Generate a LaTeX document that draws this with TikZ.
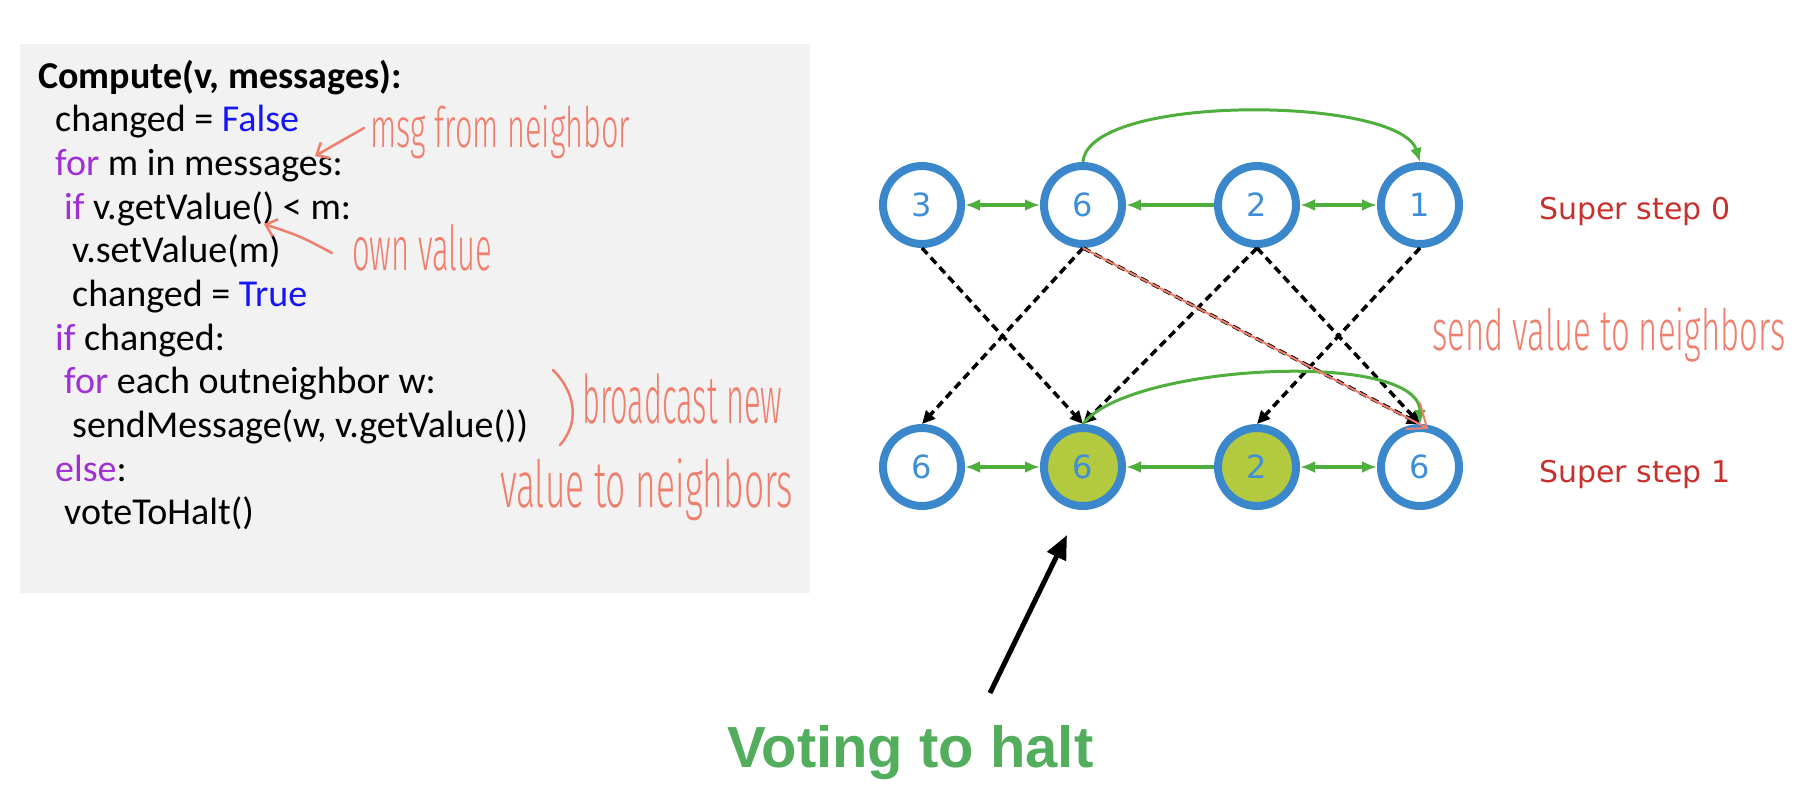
\documentclass[tikz,border=0pt]{standalone}
\usepackage{fontspec}
\setmainfont{Carlito}
\newfontfamily\dejavu{DejaVu Sans}
\newfontfamily\arialf{Liberation Sans}
\newfontfamily\handf{Fira Sans Light}
\usetikzlibrary{arrows.meta}
\definecolor{boxgray}{HTML}{F2F2F2}
\definecolor{kwpurple}{HTML}{A12FD6}
\definecolor{kwblue}{HTML}{1515F5}
\definecolor{ann}{HTML}{F07E6C}
\definecolor{nodeblue}{HTML}{3A87CC}
\definecolor{digitblue}{HTML}{3F8FD8}
\definecolor{edgegreen}{HTML}{4FAF3C}
\definecolor{fillgreen}{HTML}{B3C93F}
\definecolor{stepred}{HTML}{C7302D}
\definecolor{votegreen}{HTML}{52AD5D}
\newcommand{\hw}[3]{\resizebox{#1pt}{#2pt}{\handf #3}}
\tikzset{
  code/.style={anchor=base west, inner sep=0pt, font=\fontsize{38}{44}\selectfont},
  hand/.style={anchor=base west, inner sep=0pt, text=ann},
  annline/.style={draw=ann, line width=2.5pt, line cap=round, line join=round},
  vtx/.style={circle, draw=nodeblue, line width=8pt, minimum size=78pt, inner sep=0pt,
              text=digitblue, font=\dejavu\fontsize{32}{32}\selectfont},
  halted/.style={fill=fillgreen},
  gline/.style={draw=edgegreen, line width=3.5pt},
  gtip/.tip={Latex[length=15pt,width=12pt]},
  arcline/.style={draw=edgegreen, line width=3pt, -{Latex[length=14pt,width=12pt]}},
  dline/.style={draw=black, line width=3.5pt, dash pattern=on 8pt off 5pt,
                -{Triangle[length=13pt,width=12pt]}},
  steplbl/.style={anchor=base west, inner sep=0pt, text=stepred, font=\dejavu\fontsize{30}{30}\selectfont},
}
\begin{document}
\begin{tikzpicture}[x=1pt,y=-1pt]
\useasboundingbox (0,0) rectangle (1820,804);
\fill[boxgray] (20,44) rectangle (810,593);

% code
\node[code] (l1) at (38,88) {\bfseries Compute(v, messages):};
\node[code] (l2) at (55,131) {changed = \textcolor{kwblue}{False}};
\node[code] (l3) at (55,175) {\textcolor{kwpurple}{for} m in messages:};
\node[code] (l4) at (64,219) {\textcolor{kwpurple}{if} v.getValue() < m:};
\node[code] (l5) at (72,262) {v.setValue(m)};
\node[code] (l6) at (72,306) {changed = \textcolor{kwblue}{True}};
\node[code] (l7) at (55,350) {\textcolor{kwpurple}{if} changed:};
\node[code] (l8) at (64,393) {\textcolor{kwpurple}{for} each outneighbor w:};
\node[code] (l9) at (72,437) {sendMessage(w, v.getValue())};
\node[code] (l10) at (55,481) {\textcolor{kwpurple}{else}:};
\node[code] (l11) at (64,524) {voteToHalt()};

% handwritten annotations
\node[hand] (h1) at (370,147) {\hw{260}{42}{msg from neighbor}};
\node[hand] (h2) at (352,270) {\hw{140}{46}{own value}};
\node[hand] (h3) at (582,423) {\hw{200}{50}{broadcast new}};
\node[hand] (h4) at (500,507) {\hw{293}{49}{value to neighbors}};
\node[hand] (h5) at (1432,350) {\hw{353}{43}{send value to neighbors}};
\coordinate (m1) at (364,128);
\coordinate (m2) at (315,156);
\draw[annline, -{Straight Barb[length=10pt,width=18pt]}] (m1) -- (m2);
\coordinate (o1) at (332,253);
\coordinate (o2) at (264,224);
\draw[annline, -{Straight Barb[length=10pt,width=18pt]}] (o1) .. controls (300,236) .. (o2);
\draw[annline] (553,370) .. controls (578,395) and (578,425) .. (560,445);

% graph
\node[vtx] (a0) at (922,205) {3};
\node[vtx] (a1) at (1083,205) {6};
\node[vtx] (a2) at (1257,205) {2};
\node[vtx] (a3) at (1420,205) {1};
\node[vtx] (b0) at (922,467) {6};
\node[vtx, halted] (b1) at (1083,467) {6};
\node[vtx, halted] (b2) at (1257,467) {2};
\node[vtx] (b3) at (1420,467) {6};

\draw[gline, gtip-gtip] (a0) -- (a1);
\draw[gline, -gtip] (a2) -- (a1);
\draw[gline, gtip-gtip] (a2) -- (a3);
\draw[gline, gtip-gtip] (b0) -- (b1);
\draw[gline, -gtip] (b2) -- (b1);
\draw[gline, gtip-gtip] (b2) -- (b3);

\draw[dline] (a0.south) -- (b1.north);
\draw[dline] (a1.south) -- (b0.north);
\draw[dline] (a1.south) -- (b3.north);
\draw[dline] (a2.south) -- (b1.north);
\draw[dline] (a2.south) -- (b3.north);
\draw[dline] (a3.south) -- (b2.north);

\draw[arcline] (a1.north) .. controls +(5,-69) and +(-20,-66) .. (a3.north);
\draw[arcline] (b1.north) .. controls +(45,-60) and +(0,-75) .. (b3.north);

\coordinate (rt) at (1427,428);
\draw[annline, line width=2pt] (a1.south) -- (rt);
\draw[annline, line width=2pt] (1406,429) -- (rt) -- (1420,403);

\node[steplbl] (s0) at (1539,219) {Super step 0};
\node[steplbl] (s1) at (1539,482) {Super step 1};

% voting to halt
\node[anchor=base west, inner sep=0pt, text=votegreen, font=\arialf\bfseries\fontsize{58}{58}\selectfont] (vote) at (727,767) {Voting to halt};
\coordinate (vt1) at (990,693);
\coordinate (vt2) at (1067,535);
\draw[line width=5pt, -{Triangle[length=24pt,width=20pt]}] (vt1) -- (vt2);
\end{tikzpicture}
\end{document}
